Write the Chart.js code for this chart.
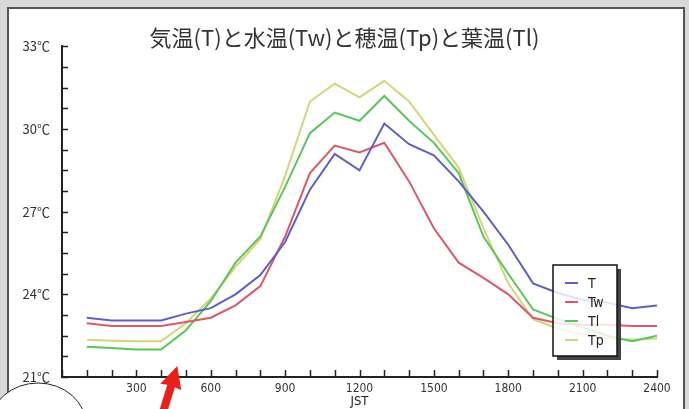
<!DOCTYPE html>
<html>
<head>
<meta charset="utf-8">
<script src="https://cdn.jsdelivr.net/npm/chart.js@4.4.1/dist/chart.umd.min.js"></script>
<style>
  html, body { margin: 0; padding: 0; }
  body { width: 689px; height: 409px; background: #d9d9d9; position: relative; overflow: hidden; }
  #frame { position: absolute; left: 7px; top: 7px; width: 674px; height: 420px; background: #fff; border: 2px solid #555; }
  #chart { position: absolute; left: 0; top: 0; }
</style>
</head>
<body>
<div id="frame"></div>
<canvas id="chart" width="689" height="409"></canvas>
<script>
// 時刻 (JST, 時)
const hours = [1, 2, 3, 4, 5, 6, 7, 8, 9, 10, 11, 12, 13, 14, 15, 16, 17, 18, 19, 20, 21, 22, 23, 24];

// 気温 T
const airTemp = [23.15, 23.05, 23.05, 23.05, 23.3, 23.5, 24.0, 24.7, 25.9, 27.8, 29.1, 28.5,
  30.2, 29.45, 29.05, 28.1, 27.0, 25.8, 24.4, 24.05, 23.8, 23.7, 23.5, 23.6];
// 水温 Tw
const waterTemp = [22.95, 22.85, 22.85, 22.85, 23.0, 23.15, 23.6, 24.3, 26.1, 28.4, 29.4, 29.15,
  29.5, 28.1, 26.4, 25.15, 24.6, 24.0, 23.15, 22.95, 22.9, 22.9, 22.85, 22.85];
// 葉温 Tl
const leafTemp = [22.1, 22.05, 22.0, 22.0, 22.7, 23.75, 25.15, 26.1, 27.9, 29.85, 30.6, 30.3,
  31.2, 30.3, 29.5, 28.4, 26.1, 24.75, 23.45, 23.1, 22.8, 22.5, 22.3, 22.5];
// 穂温 Tp
const panicleTemp = [22.35, 22.32, 22.3, 22.3, 22.95, 23.85, 25.0, 26.0, 28.3, 31.0, 31.65, 31.15,
  31.75, 31.0, 29.8, 28.6, 26.4, 24.4, 23.1, 22.75, 22.55, 22.4, 22.35, 22.4];

const seriesLabels = ["T", "Tw", "Tl", "Tp"];
const seriesColors = ["#5c60c4", "#d9596a", "#5cc45c", "#d4d47a"];

// 目盛り
const yTickLabels = [21, 24, 27, 30, 33];
const xTickLabels = [3, 6, 9, 12, 15, 18, 21, 24];

const toPoints = (vals) => vals.map((v, i) => ({ x: hours[i], y: v }));

// 軸の内側に目盛り線を描く
const innerTicks = {
  id: "innerTicks",
  afterDraw(chart) {
    const ctx = chart.ctx;
    const xs = chart.scales.x;
    const ys = chart.scales.y;
    ctx.save();
    ctx.strokeStyle = "#222";
    ctx.lineWidth = 1.5;
    ctx.beginPath();
    ys.ticks.forEach((t) => {
      const y = Math.round(ys.getPixelForValue(t.value)) + 0.5;
      ctx.moveTo(xs.left, y);
      ctx.lineTo(xs.left + 6, y);
    });
    xs.ticks.forEach((t) => {
      const x = Math.round(xs.getPixelForValue(t.value)) + 0.5;
      ctx.moveTo(x, ys.bottom);
      ctx.lineTo(x, ys.bottom - 7);
    });
    ctx.stroke();
    ctx.restore();
  },
};

// 凡例 (グラフ内右下の枠)
const boxLegend = {
  id: "boxLegend",
  afterDraw(chart) {
    const ctx = chart.ctx;
    const bx = 553, by = 265, bw = 64, bh = 91;
    ctx.save();
    ctx.fillStyle = "#444";
    ctx.fillRect(bx + bw, by + 4, 4, bh);
    ctx.fillRect(bx + 4, by + bh, bw, 4);
    ctx.fillStyle = "rgba(255,255,255,0.82)";
    ctx.fillRect(bx, by, bw, bh);
    ctx.strokeStyle = "#111";
    ctx.lineWidth = 1.5;
    ctx.strokeRect(bx, by, bw, bh);
    ctx.font = "14px 'DejaVu Sans Condensed', 'Liberation Sans Narrow', sans-serif";
    ctx.textBaseline = "middle";
    chart.data.datasets.forEach((ds, i) => {
      const y = by + 18 + i * 19;
      ctx.strokeStyle = ds.borderColor;
      ctx.lineWidth = 2;
      ctx.beginPath();
      ctx.moveTo(bx + 12, y);
      ctx.lineTo(bx + 25, y);
      ctx.stroke();
      ctx.fillStyle = "#222";
      ctx.fillText(ds.label, bx + 35, y + 1);
    });
    ctx.restore();
  },
};

// 赤い矢印と吹き出し
const overlay = {
  id: "overlay",
  afterDraw(chart) {
    const ctx = chart.ctx;
    const xs = chart.scales.x;
    const ys = chart.scales.y;
    const tx = xs.getPixelForValue(4.65);
    const ty = ys.getPixelForValue(21.4);
    ctx.save();
    // 吹き出し
    ctx.fillStyle = "#fff";
    ctx.strokeStyle = "#222";
    ctx.lineWidth = 1;
    ctx.beginPath();
    ctx.ellipse(38, 425, 48, 42, 0, 0, Math.PI * 2);
    ctx.fill();
    ctx.stroke();
    // 矢印
    ctx.fillStyle = "#e8201c";
    ctx.translate(tx, ty);
    ctx.rotate(0.3);
    ctx.beginPath();
    ctx.moveTo(0, 0);
    ctx.lineTo(11, 22);
    ctx.lineTo(4, 21);
    ctx.lineTo(4, 60);
    ctx.lineTo(-4, 60);
    ctx.lineTo(-4, 21);
    ctx.lineTo(-11, 22);
    ctx.closePath();
    ctx.fill();
    ctx.restore();
  },
};

new Chart(document.getElementById("chart"), {
  type: "line",
  data: {
    datasets: [airTemp, waterTemp, leafTemp, panicleTemp].map((vals, i) => ({
      label: seriesLabels[i],
      data: toPoints(vals),
      borderColor: seriesColors[i],
      backgroundColor: seriesColors[i],
      borderWidth: 2,
      pointRadius: 0,
      tension: 0,
    })),
  },
  options: {
    responsive: false,
    animation: false,
    layout: { padding: 0 },
    plugins: {
      legend: { display: false },
      tooltip: { enabled: false },
      title: {
        display: true,
        text: "気温(T)と水温(Tw)と穂温(Tp)と葉温(Tl)",
        color: "#333",
        font: { family: "'Noto Sans CJK JP', sans-serif", size: 22, weight: "normal" },
        padding: { top: 24, bottom: -4 },
      },
    },
    scales: {
      x: {
        type: "linear",
        min: 0,
        max: 24,
        grid: { display: false },
        border: { display: true, color: "#222", width: 2 },
        ticks: {
          stepSize: 1,
          autoSkip: false,
          maxRotation: 0,
          padding: -3,
          color: "#333",
          font: { family: "'DejaVu Sans Condensed', sans-serif", size: 12 },
          callback: (v) => (xTickLabels.includes(v) ? String(v * 100) : ""),
        },
        title: {
          display: true,
          text: "JST",
          color: "#222",
          padding: 0,
          font: { family: "'DejaVu Sans Condensed', sans-serif", size: 13 },
        },
        afterFit: (s) => { s.height = 32; },
      },
      y: {
        min: 21,
        max: 33,
        grid: { display: false },
        border: { display: true, color: "#222", width: 2 },
        ticks: {
          stepSize: 0.75,
          autoSkip: false,
          padding: 4,
          color: "#333",
          font: { family: "'Noto Sans CJK JP', sans-serif", size: 13 },
          callback: (v) => (yTickLabels.includes(v) ? v + "℃" : ""),
        },
        afterFit: (s) => { s.width = 62; },
      },
      // 右側の余白用 (表示なし)
      yRight: {
        position: "right",
        min: 21,
        max: 33,
        grid: { display: false },
        border: { display: false },
        ticks: { display: false },
        afterFit: (s) => { s.width = 32; },
      },
    },
  },
  plugins: [innerTicks, boxLegend, overlay],
});
</script>
</body>
</html>
